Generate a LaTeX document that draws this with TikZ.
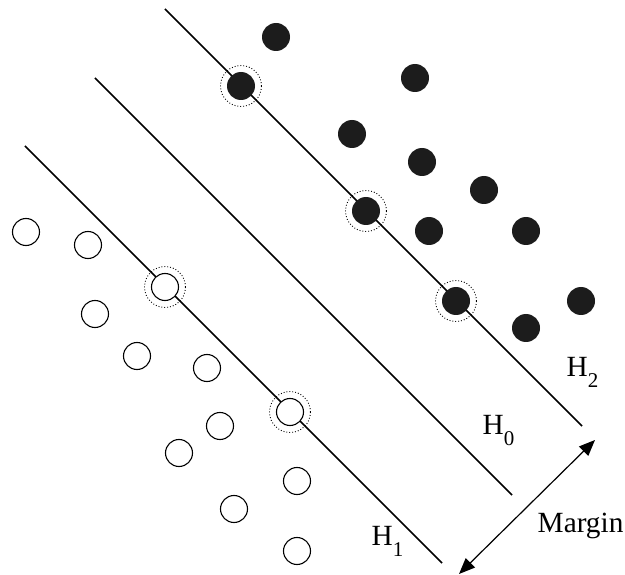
\documentclass[tikz,border=0pt]{standalone}
\usepackage{fontspec}
\setmainfont{Liberation Serif}
\usetikzlibrary{arrows.meta}
% hyperplane label with a lowered index
\newcommand\hplane[1]{H\raisebox{-11pt}{\fontsize{21}{21}\selectfont #1}}
\begin{document}
\begin{tikzpicture}[x=1pt,y=-1pt,
  plane/.style={line width=1.5pt},
  posdot/.style={circle, fill=black!89, inner sep=0pt, minimum size=28pt},
  negdot/.style={circle, draw=black, line width=1.1pt, fill=white, inner sep=0pt, minimum size=27pt},
  svring/.style={circle, draw=black, dotted, line width=0.9pt, inner sep=0pt, minimum size=41pt},
  lbl/.style={anchor=base west, inner sep=0pt, font=\fontsize{29.3}{35}\selectfont},
  gap/.style={line width=1.2pt, {Triangle[length=16pt,width=13pt]}-{Triangle[length=16pt,width=13pt]}}
]
\useasboundingbox (0,0) rectangle (625,575);

% support-vector rings
\node[svring] (s1) at (241,86) {};
\node[svring] (s2) at (366,211) {};
\node[svring] (s3) at (456,301) {};
\node[svring] (s4) at (165,287) {};
\node[svring] (s5) at (290,412) {};

% hyperplanes
\coordinate (h2a) at (165,9);   \coordinate (h2b) at (582,426);
\coordinate (h0a) at (95,78);   \coordinate (h0b) at (512,495);
\coordinate (h1a) at (25,146);  \coordinate (h1b) at (442,563);
\draw[plane] (h2a) -- (h2b);
\draw[plane] (h0a) -- (h0b);
\draw[plane] (h1a) -- (h1b);

% positive class
\node[posdot] (p1)  at (276,37) {};
\node[posdot] (p2)  at (241,86) {};
\node[posdot] (p3)  at (415,78) {};
\node[posdot] (p4)  at (352,134) {};
\node[posdot] (p5)  at (422,162) {};
\node[posdot] (p6)  at (484,190) {};
\node[posdot] (p7)  at (366,211) {};
\node[posdot] (p8)  at (429,231) {};
\node[posdot] (p9)  at (526,231) {};
\node[posdot] (p10) at (456,301) {};
\node[posdot] (p11) at (581,301) {};
\node[posdot] (p12) at (526,328) {};

% negative class
\node[negdot] (n1)  at (26,232) {};
\node[negdot] (n2)  at (88,245) {};
\node[negdot] (n3)  at (165,287) {};
\node[negdot] (n4)  at (95,314) {};
\node[negdot] (n5)  at (137,356) {};
\node[negdot] (n6)  at (207,368) {};
\node[negdot] (n7)  at (290,412) {};
\node[negdot] (n8)  at (220,426) {};
\node[negdot] (n9)  at (179,453) {};
\node[negdot] (n10) at (297,481) {};
\node[negdot] (n11) at (234,509) {};
\node[negdot] (n12) at (297,551) {};

% labels
\node[lbl] (l2) at (566.5,377) {\hplane{2}};
\node[lbl] (l0) at (482.5,435) {\hplane{0}};
\node[lbl] (l1) at (371.5,545) {\hplane{1}};
\node[lbl] (lm) at (537.5,532) {Margin};

% margin arrow
\coordinate (mt) at (595,440);
\coordinate (mb) at (459,574);
\draw[gap] (mb) -- (mt);
\end{tikzpicture}
\end{document}
